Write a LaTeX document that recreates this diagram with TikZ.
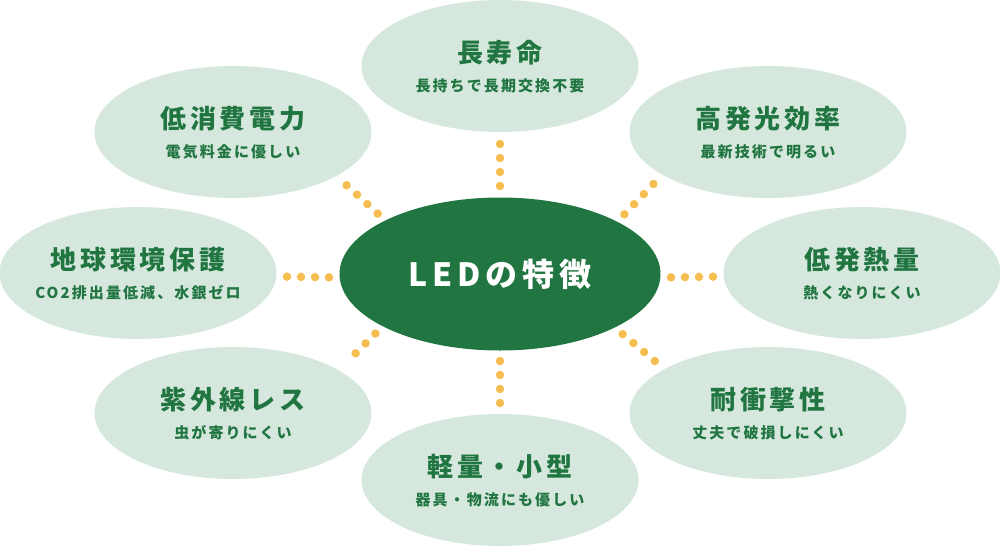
\documentclass[tikz,border=0pt]{standalone}
\usepackage{fontspec}
\setmainfont{Noto Sans CJK JP}
\usetikzlibrary{shapes.geometric,positioning}
\definecolor{ledgreen}{RGB}{32,117,65}
\definecolor{featbg}{RGB}{214,232,221}
\definecolor{dotyellow}{RGB}{246,190,80}

\tikzset{
  feat/.style={ellipse,fill=featbg,minimum width=277pt,minimum height=132pt,inner sep=0pt,outer sep=0pt},
  ttl/.style={text=ledgreen,font=\fontsize{26}{30}\selectfont\bfseries\addfontfeature{LetterSpace=15}},
  subtxt/.style={text=ledgreen,font=\fontsize{15}{17}\selectfont\bfseries\addfontfeature{LetterSpace=14}},
  dotchain/.style={draw=dotyellow,line width=8.5pt,line cap=round,dash pattern=on 0pt off 14pt},
}

\begin{document}
\begin{tikzpicture}[x=1pt,y=-1pt]
  \useasboundingbox (0,0) rectangle (1000,546);
  % centre
  \node[ellipse,fill=ledgreen,minimum width=321pt,minimum height=153pt,inner sep=0pt,outer sep=0pt,
        text=white,font=\fontsize{32}{36}\selectfont\bfseries\addfontfeature{LetterSpace=15}] (led) at (500,274) {LEDの特徴};
  % features
  \node[feat] (life) at (500,66) {};
  \node[ttl] at ([yshift=13pt]life) {長寿命};
  \node[subtxt] at ([yshift=-20pt]life) {長持ちで長期交換不要};
  \node[feat] (power) at (233,132) {};
  \node[ttl] at ([yshift=13pt]power) {低消費電力};
  \node[subtxt] at ([yshift=-20pt]power) {電気料金に優しい};
  \node[feat] (eff) at (768,132) {};
  \node[ttl] at ([yshift=13pt]eff) {高発光効率};
  \node[subtxt] at ([yshift=-20pt]eff) {最新技術で明るい};
  \node[feat] (eco) at (138,273) {};
  \node[ttl] at ([yshift=13pt]eco) {地球環境保護};
  \node[subtxt] at ([yshift=-20pt]eco) {CO2排出量低減、水銀ゼロ};
  \node[feat] (heat) at (862,273) {};
  \node[ttl] at ([yshift=13pt]heat) {低発熱量};
  \node[subtxt] at ([yshift=-20pt]heat) {熱くなりにくい};
  \node[feat] (uv) at (233,413) {};
  \node[ttl] at ([yshift=13pt]uv) {紫外線レス};
  \node[subtxt] at ([yshift=-20pt]uv) {虫が寄りにくい};
  \node[feat] (shock) at (768,413) {};
  \node[ttl] at ([yshift=13pt]shock) {耐衝撃性};
  \node[subtxt] at ([yshift=-20pt]shock) {丈夫で破損しにくい};
  \node[feat] (size) at (500,480) {};
  \node[ttl] at ([yshift=13pt]size) {軽量・小型};
  \node[subtxt] at ([yshift=-20pt]size) {器具・物流にも優しい};
  % dotted links
  \draw[dotchain,shorten <=11.5pt,shorten >=11.5pt] (led.north) -- (life.south);
  \draw[dotchain,shorten <=10.5pt,shorten >=10.5pt] (led.south) -- (size.north);
  \draw[dotchain,shorten <=10.5pt,shorten >=10pt] ([yshift=-3.5pt]led.west) -- ([yshift=-3.5pt]eco.east);
  \draw[dotchain,shorten <=10.5pt,shorten >=10pt] ([yshift=-3.5pt]led.east) -- ([yshift=-3.5pt]heat.west);
  \draw[dotchain,shorten <=10.3pt,shorten >=12.3pt] (led.155.7) -- (power.337.5);
  \draw[dotchain,shorten <=10.3pt,shorten >=12.3pt] (led.24.3) -- (eff.202.5);
  \draw[dotchain,shorten <=10.3pt,shorten >=12.3pt] (led.204.3) -- (uv.22.5);
  \draw[dotchain,shorten <=10.3pt,shorten >=12.3pt] (led.335.7) -- (shock.157.5);
\end{tikzpicture}
\end{document}
